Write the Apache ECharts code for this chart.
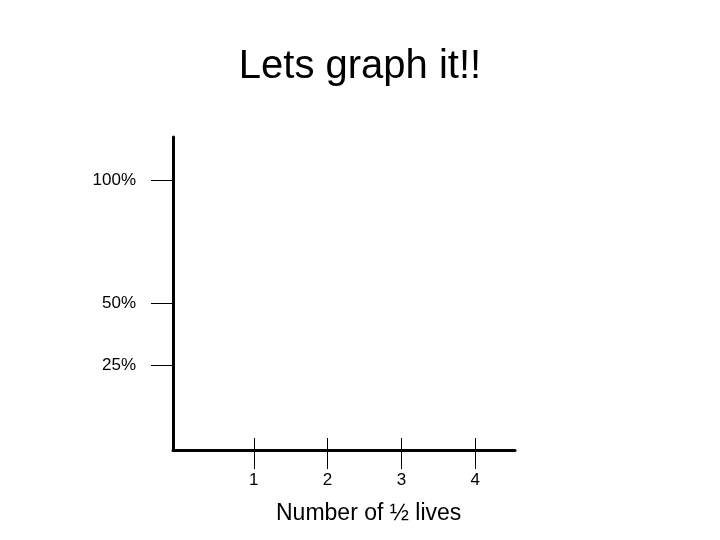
<!DOCTYPE html>
<html>
<head>
<meta charset="utf-8">
<script src="https://cdn.jsdelivr.net/npm/echarts@6/dist/echarts.min.js"></script>
<style>
  html, body { margin: 0; padding: 0; background: #fff; }
  #chart { width: 720px; height: 540px; }
</style>
</head>
<body>
<div id="chart"></div>
<script>
// 图表数据
var titleText = 'Lets graph it!!';
var xAxisTitle = 'Number of ½ lives';
var halfLives = [1, 2, 3, 4];
var percentTicks = [100, 50, 25];

var myChart = echarts.init(document.getElementById('chart'));
var font = 'Liberation Sans, Arial, sans-serif';

var option = {
    backgroundColor: '#ffffff',
    title: [
        {
            text: titleText,
            left: 'center',
            top: 42,
            textStyle: { fontFamily: font, fontSize: 40, fontWeight: 'normal', color: '#000' }
        },
        {
            text: xAxisTitle,
            left: 271,
            top: 497,
            textStyle: { fontFamily: font, fontSize: 23, fontWeight: 'normal', color: '#000' }
        }
    ],
    grid: {
        left: 173,
        top: 137,
        right: 205,
        bottom: 90
    },
    xAxis: [
        {
            type: 'value',
            min: -0.095,
            max: 4.54,
            splitLine: { show: false },
            axisLine: { onZero: false, lineStyle: { color: '#000', width: 3 } },
            axisTick: { customValues: halfLives, length: 19, lineStyle: { color: '#000', width: 1 } },
            axisLabel: {
                customValues: halfLives,
                margin: 22,
                fontFamily: font,
                fontSize: 17,
                color: '#000'
            }
        },
        {
            // 刻度穿过坐标轴
            type: 'value',
            min: -0.095,
            max: 4.54,
            position: 'bottom',
            splitLine: { show: false },
            axisLine: { show: false, onZero: false },
            axisTick: { customValues: halfLives, inside: true, length: 12, lineStyle: { color: '#000', width: 1 } },
            axisLabel: { show: false }
        }
    ],
    yAxis: {
        type: 'value',
        min: -9.5,
        max: 117.4,
        splitLine: { show: false },
        axisLine: { onZero: false, lineStyle: { color: '#000', width: 3 } },
        axisTick: { customValues: percentTicks, length: 22, lineStyle: { color: '#000', width: 1 } },
        axisLabel: {
            customValues: percentTicks,
            margin: 37,
            fontFamily: font,
            fontSize: 17,
            color: '#000',
            formatter: function (v) { return v + '%'; }
        }
    },
    series: []
};

myChart.setOption(option);
</script>
</body>
</html>
